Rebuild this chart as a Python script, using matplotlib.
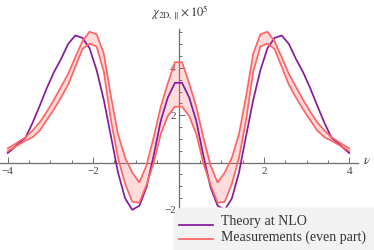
import matplotlib
matplotlib.use("Agg")
import matplotlib.pyplot as plt
from matplotlib.patches import FancyBboxPatch
from matplotlib.lines import Line2D

plt.rcParams['font.family'] = ['Liberation Serif', 'DejaVu Serif']
plt.rcParams['mathtext.fontset'] = 'stix'

# ---- data ----
nu = [-4.0, -3.917, -3.75, -3.583, -3.417, -3.25, -3.083, -2.917, -2.75, -2.583,
      -2.417, -2.25, -2.083, -1.917, -1.75, -1.583, -1.417, -1.25, -1.083, -0.917,
      -0.75, -0.583, -0.417, -0.25, -0.083,
      0.083, 0.25, 0.417, 0.583, 0.75, 0.917, 1.083, 1.25, 1.417, 1.583,
      1.75, 1.917, 2.083, 2.25, 2.417, 2.583, 2.75, 2.917, 3.083, 3.25,
      3.417, 3.583, 3.75, 3.917, 4.0]

theory = [0.40, 0.52, 0.80, 1.05, 1.68, 2.40, 3.15, 3.82, 4.38, 5.02,
          5.37, 5.27, 4.83, 3.90, 2.65, 1.12, -0.42, -1.52, -2.00, -1.83,
          -1.05, 0.28, 1.75, 2.75, 3.37,
          3.37, 2.75, 1.75, 0.28, -1.05, -1.83, -2.00, -1.52, -0.42, 1.12,
          2.65, 3.90, 4.83, 5.27, 5.37, 5.02, 4.38, 3.82, 3.15, 2.40,
          1.68, 1.05, 0.80, 0.52, 0.40]

meas_upper = [0.60, 0.68, 0.87, 1.07, 1.35, 1.70, 2.15, 2.65, 3.20, 3.75,
              4.45, 5.12, 5.53, 5.42, 4.60, 2.80, 1.20, 0.20, -0.42, -0.85,
              -0.12, 1.05, 2.35, 3.35, 4.24,
              4.24, 3.35, 2.35, 1.05, -0.12, -0.85, -0.42, 0.20, 1.20, 2.80,
              4.60, 5.42, 5.53, 5.12, 4.45, 3.75, 3.20, 2.65, 2.15, 1.70,
              1.35, 1.07, 0.87, 0.68, 0.60]

meas_lower = [0.48, 0.56, 0.75, 0.92, 1.07, 1.35, 1.80, 2.25, 2.75, 3.30,
              4.05, 4.80, 5.03, 4.90, 3.85, 1.80, 0.20, -0.90, -1.66, -1.70,
              -0.95, -0.02, 1.20, 1.97, 2.36,
              2.36, 1.97, 1.20, -0.02, -0.95, -1.70, -1.66, -0.90, 0.20, 1.80,
              3.85, 4.90, 5.03, 4.80, 4.05, 3.30, 2.75, 2.25, 1.80, 1.35,
              1.07, 0.92, 0.75, 0.56, 0.48]

x_major = [-4, -2, 2, 4]
x_minor = [-3.5, -3, -2.5, -1.5, -1, -0.5, 0.5, 1, 1.5, 2.5, 3, 3.5]
y_major = [-2, 2, 4]
y_minor = [-3.5, -3, -2.5, -1.5, -1, -0.5, 0.5, 1, 1.5, 2.5, 3, 3.5, 4.5, 5, 5.5]

labels = ['Theory at NLO', 'Measurements (even part)']

purple = '#861a9c'
red = '#ff6464'
axcol = '#6e6e6e'

W, H = 374, 250
fig = plt.figure(figsize=(W / 100, H / 100), dpi=100)
ax = fig.add_axes([0, 0, 1, 1])

x0px, xs = 178.5, 42.7
y0px, ys = 162.5, 23.65
ax.set_xlim(-x0px / xs, (W - x0px) / xs)
ax.set_ylim((y0px - H) / ys, y0px / ys)

ax.plot(nu, theory, color=purple, lw=1.25, zorder=3, solid_joinstyle='miter')
ax.fill_between(nu, meas_lower, meas_upper, color=red, alpha=0.22, lw=0, zorder=2)
ax.plot(nu, meas_upper, color=red, lw=1.25, zorder=4, solid_joinstyle='miter')
ax.plot(nu, meas_lower, color=red, lw=1.25, zorder=4, solid_joinstyle='miter')

for s in ['top', 'right']:
    ax.spines[s].set_visible(False)
ax.spines['left'].set_position(('data', 0))
ax.spines['bottom'].set_position(('data', 0))
ax.spines['bottom'].set_bounds(-x0px / xs, (357.7 - x0px) / xs)
ax.spines['left'].set_bounds((y0px - H) / ys, (y0px - 29) / ys)
for s in ['left', 'bottom']:
    ax.spines[s].set_color(axcol)
    ax.spines[s].set_linewidth(0.9)
    ax.spines[s].set_zorder(1)

ax.set_xticks(x_major)
ax.set_xticks(x_minor, minor=True)
ax.set_yticks(y_major)
ax.set_yticks(y_minor, minor=True)
ax.set_xticklabels(['\u22124', '\u22122', '2', '4'])
ax.set_yticklabels(['\u22122', '2', '4'])
ax.tick_params(which='both', direction='in', color=axcol, width=0.7,
               labelsize=8, labelcolor='#444444')
ax.tick_params(which='major', length=4)
ax.tick_params(which='minor', length=2.5)
ax.tick_params(axis='x', pad=3)
ax.tick_params(axis='y', pad=2)

fig.text(180 / W, 1 - 16.5 / H, r'$\chi_{\mathrm{2D},\,\Vert}\times 10^5$',
         ha='center', va='baseline', fontsize=9, color='#333333')
fig.text(367 / W, 1 - 161 / H, r'$\nu$', ha='center', va='center',
         fontsize=9, color='#333333')

# legend
tr = fig.dpi_scale_trans
box = FancyBboxPatch((1.735, -0.10), 2.10, (250 - 207.5) / 100 + 0.10,
                     boxstyle='round,pad=0,rounding_size=0.10',
                     transform=tr, facecolor='#f2f2f2', edgecolor='none', zorder=5)
fig.add_artist(box)
for yy, col in [(224.5, purple), (238.8, red)]:
    fig.add_artist(Line2D([1.79, 2.133], [(250 - yy) / 100] * 2, transform=tr,
                          color=col, lw=1.25, zorder=6))
for yy, lab in [(225.3, labels[0]), (240.5, labels[1])]:
    fig.text(2.207, (250 - yy) / 100, lab, transform=tr, ha='left', va='baseline',
             fontsize=10, color='#333333', zorder=7)

fig.savefig('out.png', dpi=100)
